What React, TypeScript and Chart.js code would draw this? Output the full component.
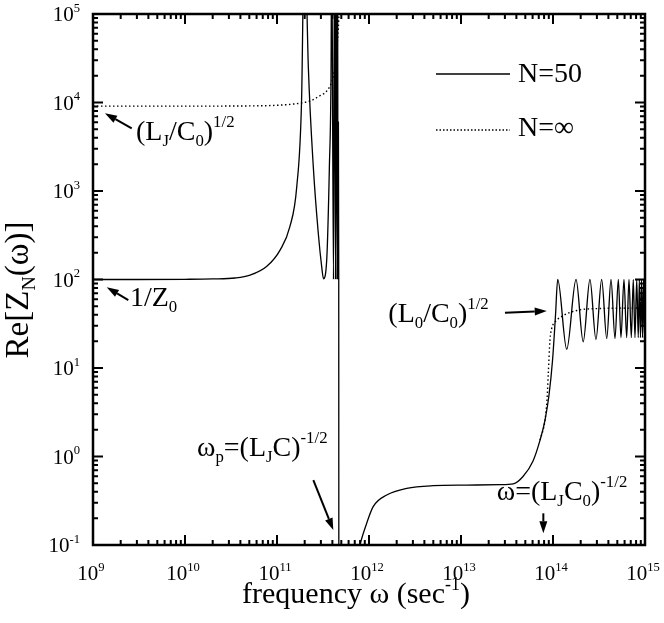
import { useEffect, useRef } from 'react';
import Chart from 'chart.js/auto';

// Re[Z_N(w)] for the N=50 chain (frequency in sec^-1)
const n50Freq = [
  1e9, 3e9, 1e10, 2e10, 3.5e10, 5.1e10, 7.7e10, 1.08e11, 1.38e11, 1.64e11,
  1.85e11, 1.99e11, 2.19e11, 2.48e11, 2.81e11, 3.06e11, 3.2e11, 3.47e11, 3.71e11, 3.87e11,
  3.93e11, 4.11e11, 4.22e11, 4.32e11, 4.41e11, 4.49e11, 4.56e11, 4.6e11, 4.65e11, 4.69e11,
  4.71e11, 6.2e11, 7.05e11, 7.98e11, 9.44e11, 1.11e12, 1.56e12, 2.57e12, 5.0e12, 1.15e13,
  2.65e13, 3.7e13, 4.72e13, 6.07e13, 7.23e13, 8.19e13, 9.05e13, 9.89e13, 1.065e14, 1.125e14,
  1.41e14, 1.78e14, 2.13e14, 2.52e14, 2.93e14, 3.38e14, 3.84e14, 4.27e14, 4.72e14, 5.13e14,
  5.48e14, 5.91e14, 6.32e14, 6.7e14, 7.1e14, 7.46e14, 7.78e14, 8.13e14, 8.45e14, 8.68e14,
  8.93e14, 9.17e14, 9.4e14, 9.64e14, 9.88e14, 1e15,
];
const n50Re = [
  100, 100, 100.5, 101.5, 104, 112, 140, 215, 395, 1120,
  1.07e4, 1e6, 2.54e4, 1885, 333, 140, 102, 166, 1885, 2.54e4,
  1e6, 100, 1e6, 100, 1e6, 100, 1e6, 100, 6000, 100,
  1e-4, 0.024, 0.052, 0.1, 0.176, 0.271, 0.367, 0.437, 0.468, 0.475,
  0.48, 0.49, 0.594, 0.89, 1.53, 2.58, 4.95, 12.3, 39.7, 100,
  16.3, 100, 19.8, 100, 21, 100, 21.5, 100, 21.5, 100,
  22, 100, 22, 100, 22, 100, 22, 100, 22, 100,
  22, 100, 22, 100, 22, 60,
];

// N = infinity (null = gap above the plasma frequency; below the step it lies under the N=50 curve)
const infFreq = [
  1e9, 1e10, 5e10, 1e11, 1.5e11, 1.93e11, 2.4e11, 2.79e11, 3.47e11, 3.93e11,
  4.27e11, 4.52e11, 4.69e11, 4.8e11, 4.85e11,
  7.23e13, 8.19e13, 8.6e13, 8.89e13, 9.27e13, 9.68e13, 1.05e14, 1.29e14, 1.82e14, 3.24e14,
  1e15,
];
const infRe = [
  9100, 9100, 9150, 9300, 9600, 9950, 1.06e4, 1.16e4, 1.35e4, 1.72e4,
  2.54e4, 4.67e4, 8.6e4, 2e5, null,
  1.53, 2.58, 4.3, 8.7, 20.7, 28, 33, 39, 44.7, 47,
  47.6,
];

// axis decades (tick labels are 10^d)
const xDecades = [9, 10, 11, 12, 13, 14, 15];
const yDecades = [-1, 0, 1, 2, 3, 4, 5];

const SERIF = '"Liberation Serif", "Times New Roman", serif';

type Run = { t: string; k?: 'sub' | 'sup' };

// annotations: text anchor, arrow tail and tip in log10 units (x, y)
const notes: { runs: Run[]; at: number[]; tail: number[]; tip: number[] }[] = [
  {
    runs: [{ t: '(L' }, { t: 'J', k: 'sub' }, { t: '/C' }, { t: '0', k: 'sub' }, { t: ')' }, { t: '1/2', k: 'sup' }],
    at: [9.467, 3.576], tail: [9.421, 3.708], tip: [9.13, 3.878],
  },
  {
    runs: [{ t: '1/Z' }, { t: '0', k: 'sub' }],
    at: [9.402, 1.701], tail: [9.384, 1.768], tip: [9.149, 1.912],
  },
  {
    runs: [{ t: '(L' }, { t: '0', k: 'sub' }, { t: '/C' }, { t: '0', k: 'sub' }, { t: ')' }, { t: '1/2', k: 'sup' }],
    at: [12.21, 1.52], tail: [13.478, 1.625], tip: [13.932, 1.644],
  },
  {
    runs: [{ t: 'ω' }, { t: 'p', k: 'sub' }, { t: '=(L' }, { t: 'J', k: 'sub' }, { t: 'C)' }, { t: '-1/2', k: 'sup' }],
    at: [10.13, 0.006], tail: [11.395, -0.266], tip: [11.612, -0.831],
  },
  {
    runs: [{ t: 'ω=(L' }, { t: 'J', k: 'sub' }, { t: 'C' }, { t: '0', k: 'sub' }, { t: ')' }, { t: '-1/2', k: 'sup' }],
    at: [13.388, -0.492], tail: [13.895, -0.642], tip: [13.895, -0.868],
  },
];

function runsWidth(ctx: CanvasRenderingContext2D, runs: Run[], size: number) {
  let w = 0;
  for (const r of runs) {
    ctx.font = `${r.k ? size * 0.6 : size}px ${SERIF}`;
    w += ctx.measureText(r.t).width;
  }
  return w;
}

function drawRuns(ctx: CanvasRenderingContext2D, runs: Run[], x: number, y: number, size: number, align = 'left') {
  const w = runsWidth(ctx, runs, size);
  let cx = align === 'left' ? x : align === 'center' ? x - w / 2 : x - w;
  ctx.textAlign = 'left';
  ctx.textBaseline = 'alphabetic';
  for (const r of runs) {
    ctx.font = `${r.k ? size * 0.6 : size}px ${SERIF}`;
    const dy = r.k === 'sub' ? size * 0.22 : r.k === 'sup' ? -size * 0.45 : 0;
    ctx.fillText(r.t, cx, y + dy);
    cx += ctx.measureText(r.t).width;
  }
}

function drawArrow(ctx: CanvasRenderingContext2D, x0: number, y0: number, x1: number, y1: number) {
  const ang = Math.atan2(y1 - y0, x1 - x0);
  const len = 12;
  const half = 4;
  const bx = x1 - len * Math.cos(ang);
  const by = y1 - len * Math.sin(ang);
  ctx.lineWidth = 2;
  ctx.beginPath();
  ctx.moveTo(x0, y0);
  ctx.lineTo(bx, by);
  ctx.stroke();
  ctx.beginPath();
  ctx.moveTo(x1, y1);
  ctx.lineTo(bx + half * Math.sin(ang), by - half * Math.cos(ang));
  ctx.lineTo(bx - half * Math.sin(ang), by + half * Math.cos(ang));
  ctx.closePath();
  ctx.fill();
}

// frame with inward ticks on all four sides, tick labels, titles, legend, notes
const decorations = {
  id: 'decorations',
  afterDatasetsDraw(chart: any) {
    const { ctx, chartArea: a, scales } = chart;
    const xs = scales.x;
    const ys = scales.y;
    const px = (lx: number) => xs.getPixelForValue(10 ** lx);
    const py = (ly: number) => ys.getPixelForValue(10 ** ly);
    ctx.save();
    ctx.strokeStyle = '#000';
    ctx.fillStyle = '#000';

    ctx.lineWidth = 2;
    ctx.beginPath();
    xDecades.forEach((d) => {
      for (let m = 1; m <= 9; m++) {
        if (d === xDecades[xDecades.length - 1] && m > 1) break;
        const p = xs.getPixelForValue(m * 10 ** d);
        const len = m === 1 ? 10 : 5;
        ctx.moveTo(p, a.bottom);
        ctx.lineTo(p, a.bottom - len);
        ctx.moveTo(p, a.top);
        ctx.lineTo(p, a.top + len);
      }
    });
    yDecades.forEach((d) => {
      for (let m = 1; m <= 9; m++) {
        if (d === yDecades[yDecades.length - 1] && m > 1) break;
        const p = ys.getPixelForValue(m * 10 ** d);
        const len = m === 1 ? 10 : 5;
        ctx.moveTo(a.left, p);
        ctx.lineTo(a.left + len, p);
        ctx.moveTo(a.right, p);
        ctx.lineTo(a.right - len, p);
      }
    });
    ctx.stroke();

    ctx.lineWidth = 2.5;
    ctx.strokeRect(a.left, a.top, a.right - a.left, a.bottom - a.top);

    // tick labels
    xDecades.forEach((d) => {
      drawRuns(ctx, [{ t: '10' }, { t: String(d), k: 'sup' }], xs.getPixelForValue(10 ** d) - 2, a.bottom + 35, 21, 'center');
    });
    yDecades.forEach((d) => {
      drawRuns(ctx, [{ t: '10' }, { t: String(d), k: 'sup' }], a.left - 13, ys.getPixelForValue(10 ** d) + 7, 21, 'right');
    });

    // axis titles
    drawRuns(ctx, [{ t: 'frequency ω (sec' }, { t: '-1', k: 'sup' }, { t: ')' }], a.left + 263, a.bottom + 58, 30, 'center');
    ctx.save();
    ctx.translate(28, a.top + 276);
    ctx.rotate(-Math.PI / 2);
    drawRuns(ctx, [{ t: 'Re[Z' }, { t: 'N', k: 'sub' }, { t: '(ω)]' }], 0, 0, 33, 'center');
    ctx.restore();

    // legend
    ctx.lineWidth = 1.3;
    ctx.beginPath();
    ctx.moveTo(a.left + 343, a.top + 60);
    ctx.lineTo(a.left + 417, a.top + 60);
    ctx.stroke();
    ctx.setLineDash([1.5, 2]);
    ctx.beginPath();
    ctx.moveTo(a.left + 343, a.top + 116);
    ctx.lineTo(a.left + 417, a.top + 116);
    ctx.stroke();
    ctx.setLineDash([]);
    drawRuns(ctx, [{ t: 'N=50' }], a.left + 425, a.top + 68, 28);
    drawRuns(ctx, [{ t: 'N=∞' }], a.left + 425, a.top + 122, 28);

    // annotations
    notes.forEach((n) => {
      drawRuns(ctx, n.runs, px(n.at[0]), py(n.at[1]), 28);
      drawArrow(ctx, px(n.tail[0]), py(n.tail[1]), px(n.tip[0]), py(n.tip[1]));
    });
    ctx.restore();
  },
};

export default function App() {
  const canvasRef = useRef<HTMLCanvasElement>(null);

  useEffect(() => {
    document.body.style.margin = '0';
    if (!canvasRef.current) return;

    const chart = new Chart(canvasRef.current, {
      type: 'line',
      data: {
        datasets: [
          {
            label: 'N=50',
            data: n50Freq.map((f, i) => ({ x: f, y: n50Re[i] })),
            borderColor: '#000',
            borderWidth: 1.3,
            pointRadius: 0,
            cubicInterpolationMode: 'monotone',
            capBezierPoints: false,
          },
          {
            label: 'N=∞',
            data: infFreq.map((f, i) => ({ x: f, y: infRe[i] })),
            borderColor: '#000',
            borderWidth: 1.4,
            borderDash: [1.5, 2.5],
            pointRadius: 0,
            cubicInterpolationMode: 'monotone',
            capBezierPoints: false,
            spanGaps: false,
          },
        ],
      } as any,
      options: {
        animation: false,
        responsive: true,
        maintainAspectRatio: false,
        layout: { padding: { left: 93, right: 19, top: 14, bottom: 78 } },
        scales: {
          x: { type: 'logarithmic', min: 1e9, max: 1e15, display: false },
          y: { type: 'logarithmic', min: 0.1, max: 1e5, display: false },
        },
        plugins: {
          legend: { display: false },
          tooltip: { enabled: false },
        },
        events: [],
      },
      plugins: [decorations],
    });

    return () => {
      chart.destroy();
    };
  }, []);

  return (
    <div style={{ width: 664, height: 623, position: 'relative', background: '#fff' }}>
      <canvas ref={canvasRef} />
    </div>
  );
}
